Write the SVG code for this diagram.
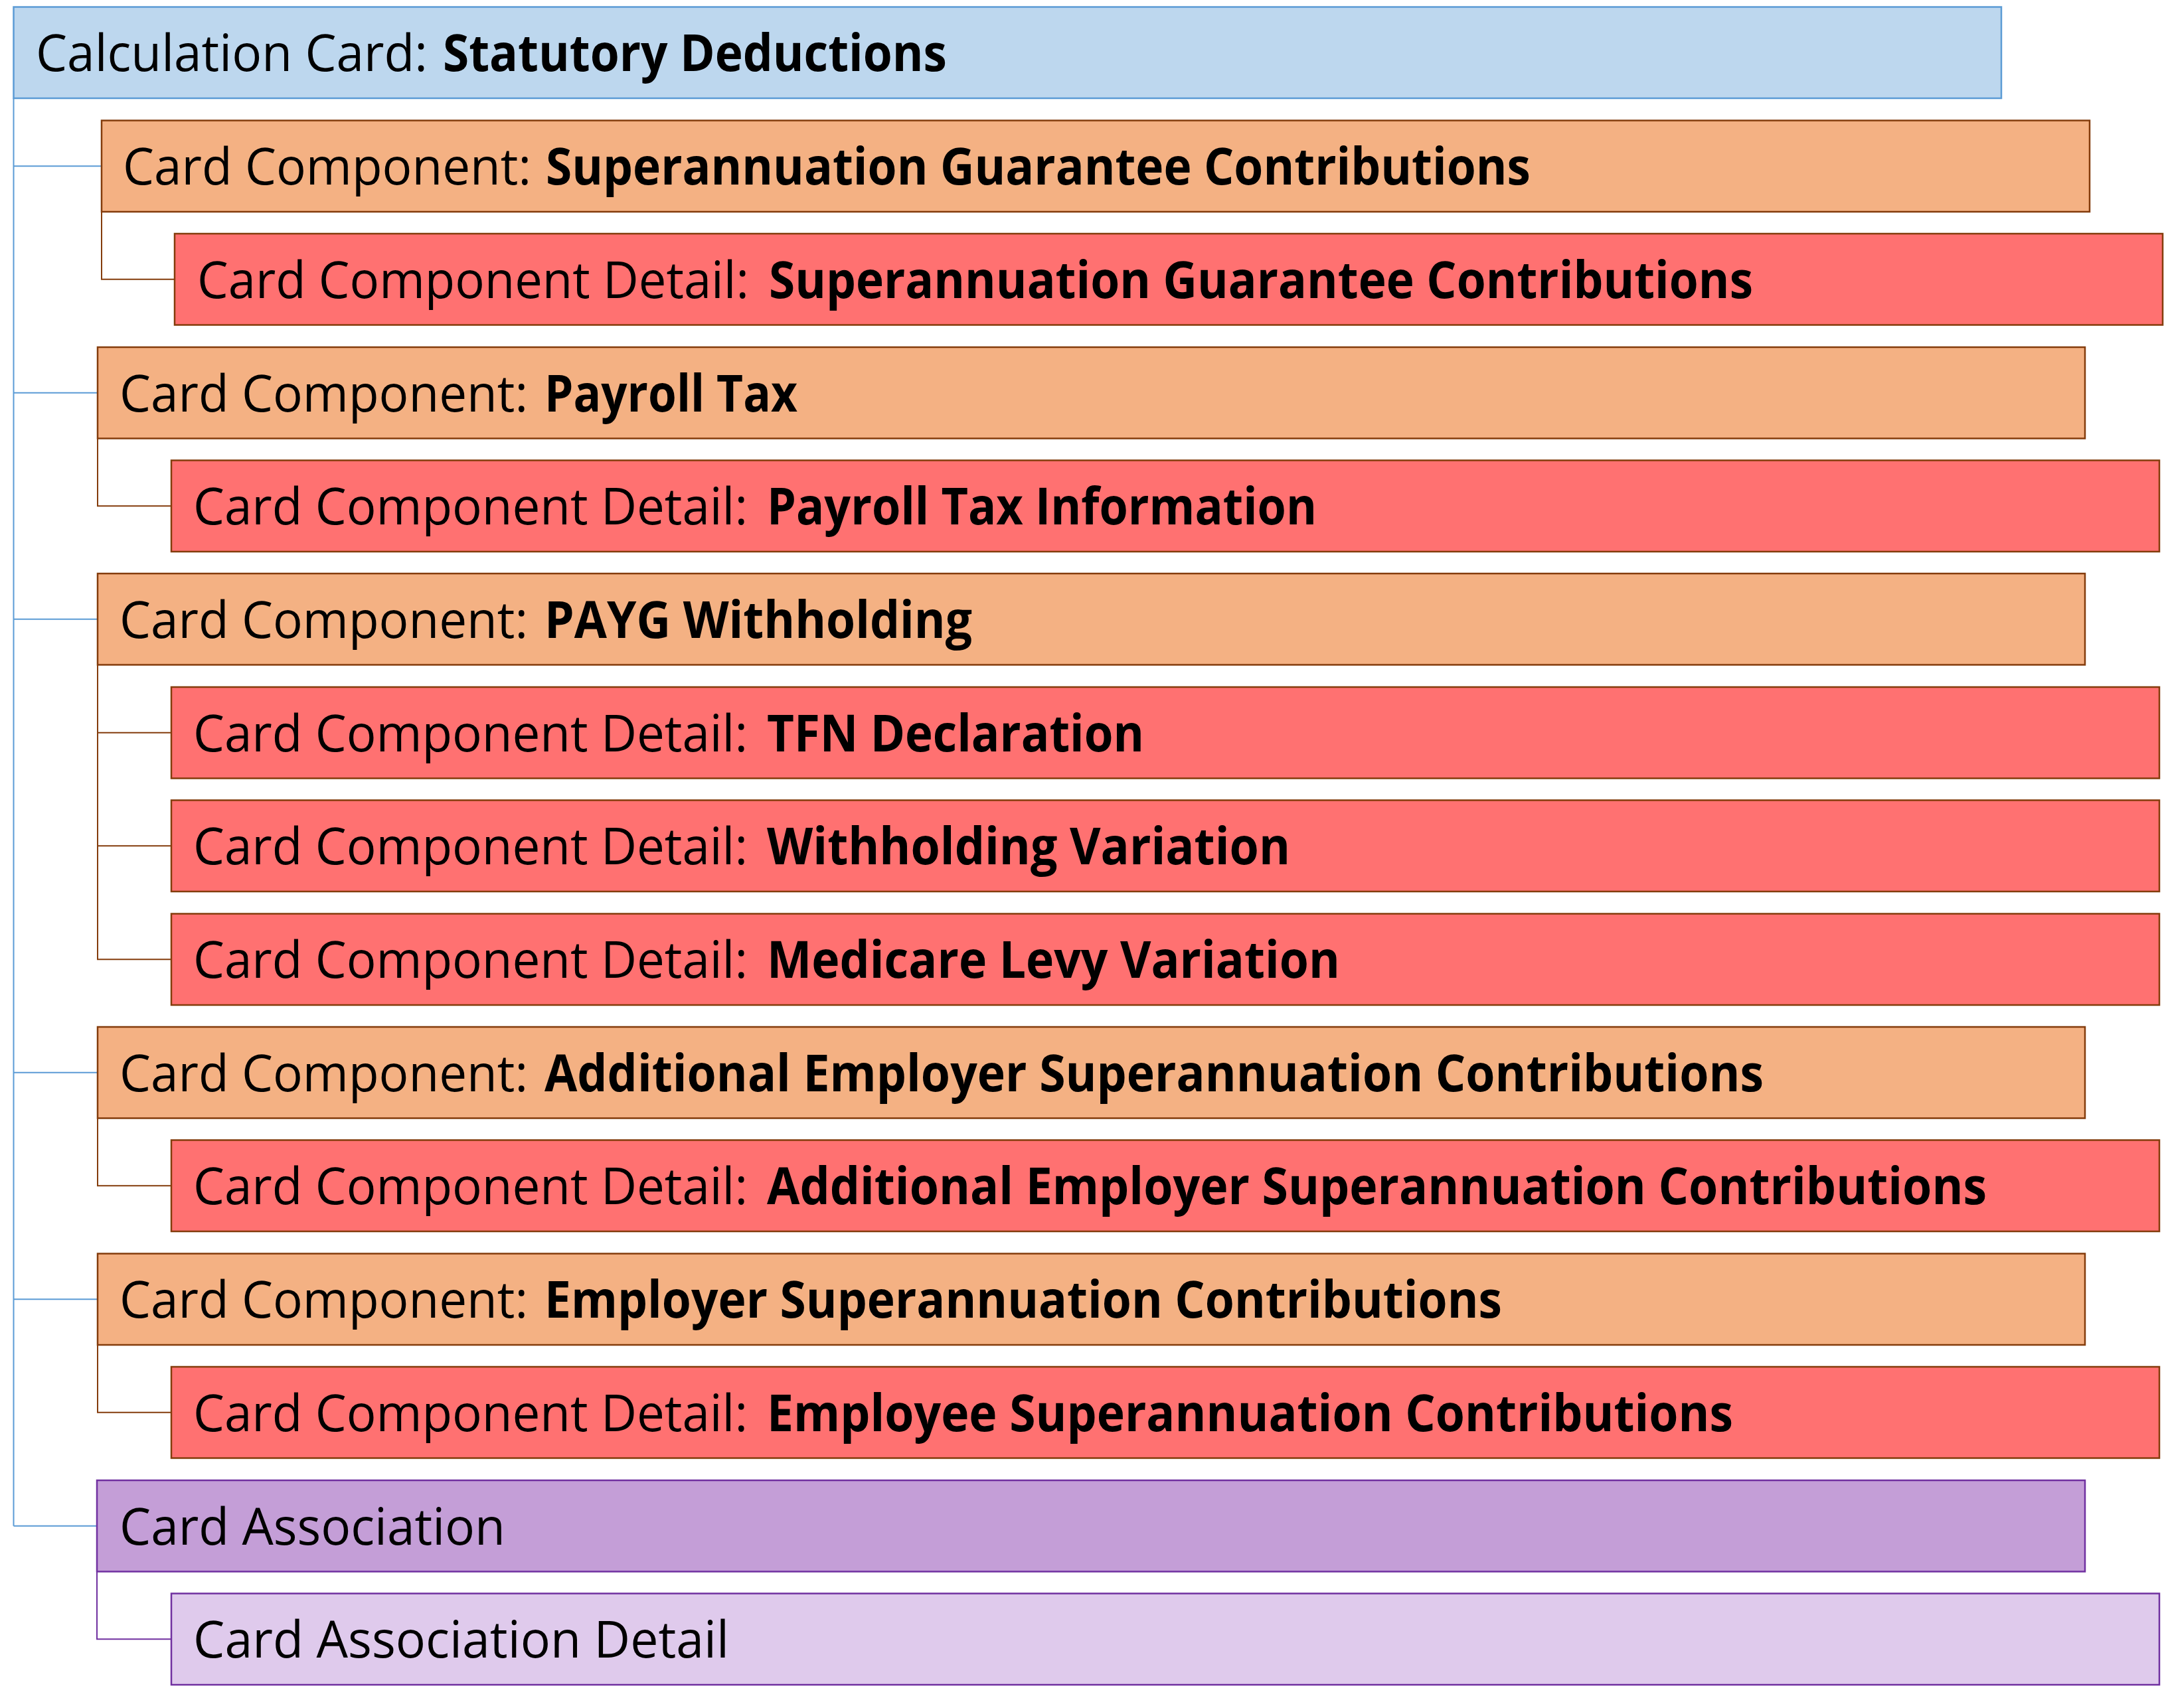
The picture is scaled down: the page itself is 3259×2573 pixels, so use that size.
<svg xmlns="http://www.w3.org/2000/svg" width="3259" height="2573" viewBox="0 0 3259 2573">
<style>
.t{font-family:'Open Sans','Liberation Sans',sans-serif;font-size:77px;fill:#000}
.b{font-weight:700}
.card{fill:#BDD7EE;stroke:#5B9BD5;stroke-width:2.5}
.comp{fill:#F4B183;stroke:#843C0C;stroke-width:2.5}
.det{fill:#FF7171;stroke:#843C0C;stroke-width:2.5}
.assoc{fill:#C49ED7;stroke:#7030A0;stroke-width:2.5}
.adet{fill:#DFCAEC;stroke:#7030A0;stroke-width:2.5}
.cb{fill:none;stroke:#5B9BD5;stroke-width:2}
.cr{fill:none;stroke:#843C0C;stroke-width:2}
.cp{fill:none;stroke:#7030A0;stroke-width:2}
</style>
<rect width="3259" height="2573" fill="#fff"/>
<g id="connectors">
<path class="cb" d="M20.5 148 V2298.75 M20.5 250.25 H153 M20.5 591.75 H147 M20.5 932.75 H147 M20.5 1615.75 H147 M20.5 1957.25 H147 M20.5 2298.75 H146"/>
<path class="cr" d="M153 319 V420.75 H263 M147 660.5 V762.25 H258 M147 1001.5 V1445.25 H258 M147 1103.75 H258 M147 1274.25 H258 M147 1684.5 V1786.25 H258 M147 2026 V2127.75 H258"/>
<path class="cp" d="M146 2367.5 V2469.25 H258"/>
</g>
<g id="n0"><rect class="card" x="20.5" y="10.5" width="2993.5" height="137.5"/>
<text class="t" y="107"><tspan x="54" textLength="590" lengthAdjust="spacingAndGlyphs">Calculation Card:</tspan> <tspan class="b" x="667" textLength="759" lengthAdjust="spacingAndGlyphs">Statutory Deductions</tspan></text></g>
<g id="n1"><rect class="comp" x="153" y="181.5" width="2994" height="137.5"/>
<text class="t" y="278"><tspan x="185" textLength="615" lengthAdjust="spacingAndGlyphs">Card Component:</tspan> <tspan class="b" x="822" textLength="1483" lengthAdjust="spacingAndGlyphs">Superannuation Guarantee Contributions</tspan></text></g>
<g id="n2"><rect class="det" x="263" y="352" width="2994" height="137.5"/>
<text class="t" y="448.5"><tspan x="297" textLength="831" lengthAdjust="spacingAndGlyphs">Card Component Detail:</tspan> <tspan class="b" x="1158" textLength="1482" lengthAdjust="spacingAndGlyphs">Superannuation Guarantee Contributions</tspan></text></g>
<g id="n3"><rect class="comp" x="147" y="523" width="2993" height="137.5"/>
<text class="t" y="619.5"><tspan x="180" textLength="615" lengthAdjust="spacingAndGlyphs">Card Component:</tspan> <tspan class="b" x="820" textLength="381" lengthAdjust="spacingAndGlyphs">Payroll Tax</tspan></text></g>
<g id="n4"><rect class="det" x="258" y="693.5" width="2994" height="137.5"/>
<text class="t" y="790"><tspan x="291" textLength="835" lengthAdjust="spacingAndGlyphs">Card Component Detail:</tspan> <tspan class="b" x="1155" textLength="828" lengthAdjust="spacingAndGlyphs">Payroll Tax Information</tspan></text></g>
<g id="n5"><rect class="comp" x="147" y="864" width="2993" height="137.5"/>
<text class="t" y="960.5"><tspan x="180" textLength="615" lengthAdjust="spacingAndGlyphs">Card Component:</tspan> <tspan class="b" x="820" textLength="644" lengthAdjust="spacingAndGlyphs">PAYG Withholding</tspan></text></g>
<g id="n6"><rect class="det" x="258" y="1035" width="2994" height="137.5"/>
<text class="t" y="1131.5"><tspan x="291" textLength="835" lengthAdjust="spacingAndGlyphs">Card Component Detail:</tspan> <tspan class="b" x="1155" textLength="568" lengthAdjust="spacingAndGlyphs">TFN Declaration</tspan></text></g>
<g id="n7"><rect class="det" x="258" y="1205.5" width="2994" height="137.5"/>
<text class="t" y="1302"><tspan x="291" textLength="835" lengthAdjust="spacingAndGlyphs">Card Component Detail:</tspan> <tspan class="b" x="1155" textLength="788" lengthAdjust="spacingAndGlyphs">Withholding Variation</tspan></text></g>
<g id="n8"><rect class="det" x="258" y="1376.5" width="2994" height="137.5"/>
<text class="t" y="1473"><tspan x="291" textLength="835" lengthAdjust="spacingAndGlyphs">Card Component Detail:</tspan> <tspan class="b" x="1155" textLength="863" lengthAdjust="spacingAndGlyphs">Medicare Levy Variation</tspan></text></g>
<g id="n9"><rect class="comp" x="147" y="1547" width="2993" height="137.5"/>
<text class="t" y="1643.5"><tspan x="180" textLength="615" lengthAdjust="spacingAndGlyphs">Card Component:</tspan> <tspan class="b" x="820" textLength="1836" lengthAdjust="spacingAndGlyphs">Additional Employer Superannuation Contributions</tspan></text></g>
<g id="n10"><rect class="det" x="258" y="1717.5" width="2994" height="137.5"/>
<text class="t" y="1814"><tspan x="291" textLength="835" lengthAdjust="spacingAndGlyphs">Card Component Detail:</tspan> <tspan class="b" x="1155" textLength="1837" lengthAdjust="spacingAndGlyphs">Additional Employer Superannuation Contributions</tspan></text></g>
<g id="n11"><rect class="comp" x="147" y="1888.5" width="2993" height="137.5"/>
<text class="t" y="1985"><tspan x="180" textLength="615" lengthAdjust="spacingAndGlyphs">Card Component:</tspan> <tspan class="b" x="820" textLength="1442" lengthAdjust="spacingAndGlyphs">Employer Superannuation Contributions</tspan></text></g>
<g id="n12"><rect class="det" x="258" y="2059" width="2994" height="137.5"/>
<text class="t" y="2155.5"><tspan x="291" textLength="835" lengthAdjust="spacingAndGlyphs">Card Component Detail:</tspan> <tspan class="b" x="1155" textLength="1455" lengthAdjust="spacingAndGlyphs">Employee Superannuation Contributions</tspan></text></g>
<g id="n13"><rect class="assoc" x="146" y="2230" width="2994" height="137.5"/>
<text class="t" x="180" y="2326.5" textLength="581" lengthAdjust="spacingAndGlyphs">Card Association</text></g>
<g id="n14"><rect class="adet" x="258" y="2400.5" width="2994" height="137.5"/>
<text class="t" x="291" y="2497" textLength="807" lengthAdjust="spacingAndGlyphs">Card Association Detail</text></g>
</svg>
